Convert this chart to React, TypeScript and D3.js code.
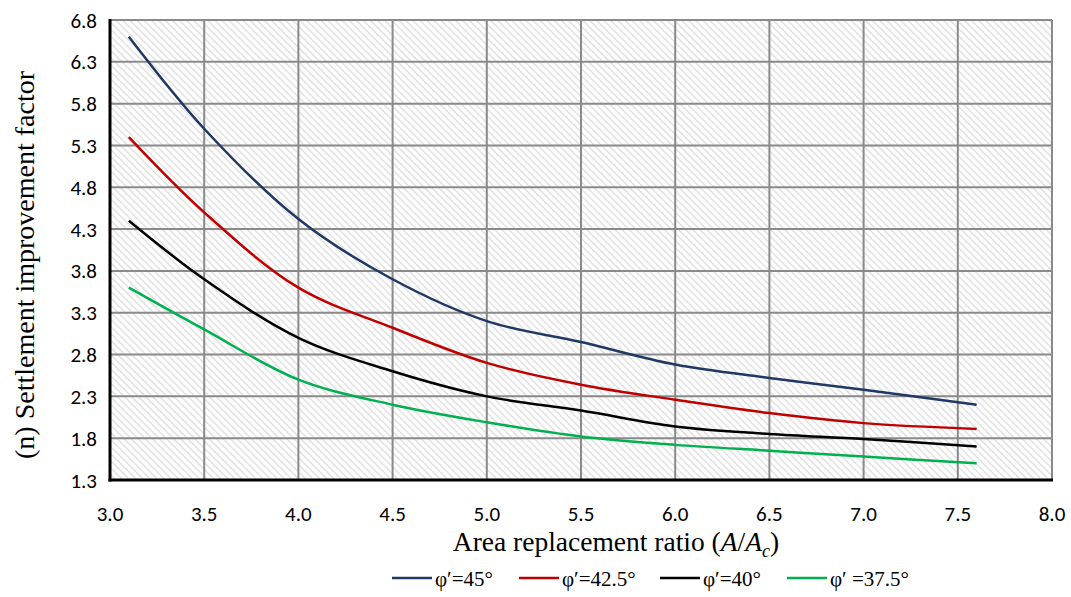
import React from "react";
import * as d3 from "d3";

const xValues = [3.1, 3.5, 4.0, 4.5, 5.0, 5.5, 6.0, 6.5, 7.0, 7.6];
const phi45 = [6.6, 5.5, 4.42, 3.7, 3.2, 2.95, 2.68, 2.52, 2.38, 2.2];
const phi425 = [5.4, 4.5, 3.6, 3.12, 2.7, 2.44, 2.26, 2.1, 1.98, 1.91];
const phi40 = [4.4, 3.7, 3.0, 2.6, 2.3, 2.13, 1.94, 1.85, 1.79, 1.7];
const phi375 = [3.6, 3.1, 2.5, 2.2, 1.99, 1.82, 1.72, 1.65, 1.58, 1.5];
const xTicks = [3.0, 3.5, 4.0, 4.5, 5.0, 5.5, 6.0, 6.5, 7.0, 7.5, 8.0];
const yTicks = [1.3, 1.8, 2.3, 2.8, 3.3, 3.8, 4.3, 4.8, 5.3, 5.8, 6.3, 6.8];
const seriesNames = ["φ′=45°", "φ′=42.5°", "φ′=40°", "φ′ =37.5°"];
const seriesColors = ["#1f3864", "#c00000", "#000000", "#00b050"];
const legendX = [392, 519, 660, 787];

export default function App() {
  const W = 1071, H = 597;
  const left = 110, right = 1052, top = 20, bottom = 480;
  const x = d3.scaleLinear().domain([3.0, 8.0]).range([left, right]);
  const y = d3.scaleLinear().domain([1.3, 6.8]).range([bottom, top]);
  const series = [phi45, phi425, phi40, phi375];
  const line = d3
    .line<[number, number]>()
    .x((d) => x(d[0]))
    .y((d) => y(d[1]))
    .curve(d3.curveCatmullRom.alpha(0.5));
  const tickFont = "Carlito, Lato, 'Open Sans', sans-serif";
  const serif = "'Liberation Serif', 'Times New Roman', serif";
  return (
    <svg width={W} height={H} style={{ position: "absolute", left: 0, top: 0, background: "#fff" }}>
      <defs>
        <pattern id="hatch" width="5" height="5" patternUnits="userSpaceOnUse" patternTransform="rotate(45)">
          <line x1="0" y1="2.5" x2="5" y2="2.5" stroke="#dcdcdc" strokeWidth="1.4" />
        </pattern>
      </defs>
      <rect x={left} y={top} width={right - left} height={bottom - top} fill="#fff" />
      <rect x={left} y={top} width={right - left} height={bottom - top} fill="url(#hatch)" />
      {xTicks.map((t) => (
        <line key={"gx" + t} x1={x(t)} x2={x(t)} y1={top} y2={bottom} stroke="#8a8a8a" strokeWidth={2} />
      ))}
      {yTicks.map((t) => (
        <line key={"gy" + t} x1={left} x2={right} y1={y(t)} y2={y(t)} stroke="#8a8a8a" strokeWidth={2} />
      ))}
      <line x1={left} x2={left} y1={top - 1} y2={bottom + 1.5} stroke="#000" strokeWidth={3} />
      <line x1={left - 1.5} x2={right + 1} y1={bottom} y2={bottom} stroke="#000" strokeWidth={3} />
      {series.map((s, i) => (
        <path
          key={"s" + i}
          d={line(xValues.map((v, j) => [v, s[j]] as [number, number])) || ""}
          fill="none"
          stroke={seriesColors[i]}
          strokeWidth={2.5}
        />
      ))}
      {xTicks.map((t) => (
        <text key={"tx" + t} x={x(t)} y={521} textAnchor="middle" fontFamily={tickFont} fontSize={21} fill="#000">
          {t.toFixed(1)}
        </text>
      ))}
      {yTicks.map((t) => (
        <text key={"ty" + t} x={97} y={y(t) + 7.5} textAnchor="end" fontFamily={tickFont} fontSize={21} fill="#000">
          {t.toFixed(1)}
        </text>
      ))}
      <text x={616} y={551} textAnchor="middle" fontFamily={serif} fontSize={27.5} fill="#000">
        Area replacement ratio (<tspan fontStyle="italic">A</tspan>/<tspan fontStyle="italic">A</tspan>
        <tspan fontStyle="italic" fontSize={18} dy={6}>c</tspan>
        <tspan dy={-6}>)</tspan>
      </text>
      <text
        transform={`translate(34, ${(top + bottom) / 2 + 15}) rotate(-90)`}
        textAnchor="middle"
        fontFamily={serif}
        fontSize={28}
        fill="#000"
      >
        (n) Settlement improvement factor
      </text>
      {seriesNames.map((n, i) => (
        <g key={"lg" + i}>
          <line x1={legendX[i]} x2={legendX[i] + 40} y1={578} y2={578} stroke={seriesColors[i]} strokeWidth={2.5} />
          <text x={legendX[i] + 43} y={586} fontFamily={serif} fontSize={21} fill="#000">
            {n}
          </text>
        </g>
      ))}
    </svg>
  );
}
